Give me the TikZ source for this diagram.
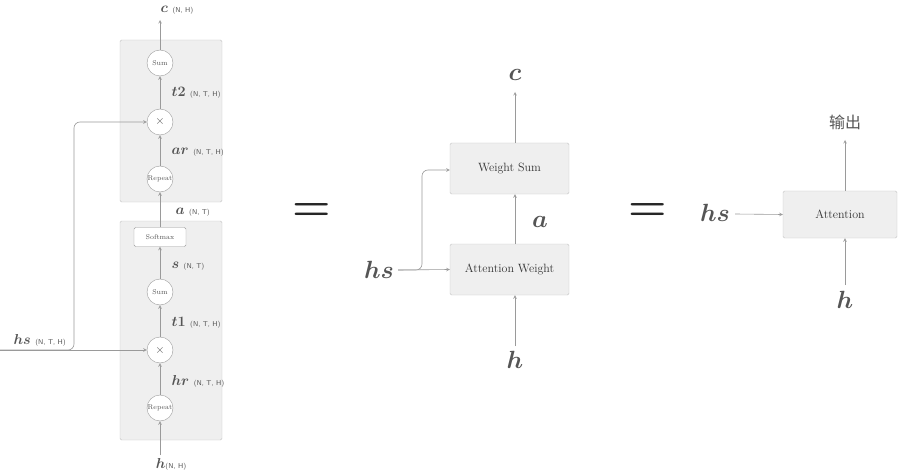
\documentclass[tikz,border=0pt]{standalone}
\usepackage{fontspec}
\usepackage{amsmath}
\newfontfamily\cjk{Noto Sans CJK SC}
\usetikzlibrary{positioning}
\definecolor{ln}{HTML}{9A9A9A}
\definecolor{tx}{HTML}{555555}
\definecolor{bx}{HTML}{EFEFEF}
\definecolor{bd}{HTML}{C4C4C4}
\tikzset{
  op/.style={circle, draw=ln, fill=white, minimum size=26pt, inner sep=0pt, font=\fontsize{7}{8}\selectfont, text=tx},
  blk/.style={draw=bd, fill=bx, rounded corners=1.5pt},
  lay/.style={draw=bd, fill=bx, rounded corners=1.5pt, minimum width=119pt, minimum height=51pt, font=\fontsize{12}{14}\selectfont, text=black!80},
  arr/.style={->, >=stealth, draw=ln, line width=0.6pt},
  big/.style={text=black!85, font=\fontsize{44}{46}\selectfont\bfseries},
  sml/.style={text=tx, font=\fontsize{15}{17}\selectfont, anchor=west},
  lbl/.style={text=tx, font=\fontsize{27}{30}\selectfont}
}
\newcommand{\dims}[1]{{\fontsize{7}{8}\sffamily\selectfont(#1)}}
\begin{document}
\begin{tikzpicture}[x=1pt, y=-1pt]
        \useasboundingbox (0,0) rectangle (908,476);
        % Left: detailed graph
        \draw[blk] (120,40) rectangle (222,202);
        \draw[blk] (120,221) rectangle (222,440);
        \node[op] (sumB) at (160,63) {Sum};
        \node[op, font=\fontsize{12}{12}\selectfont] (mulB) at (160,122) {$\times$};
        \node[op] (repB) at (160,179) {Repeat};
        \node[draw=ln, fill=white, rounded corners=1.5pt, minimum width=52pt, minimum height=19pt, inner sep=0pt, font=\fontsize{7}{8}\selectfont, text=tx] (soft) at (160,237) {Softmax};
        \node[op] (sumA) at (160,292) {Sum};
        \node[op, font=\fontsize{12}{12}\selectfont] (mulA) at (160,350) {$\times$};
        \node[op] (repA) at (160,408) {Repeat};
        \coordinate (cTop) at (160,20);
        \coordinate (hBot) at (160,455);
        \coordinate (hsIn) at (0,350);
        \coordinate (hsUp) at (74,122);
        \node[sml, anchor=center, inner sep=1pt] (cL) at (177,10) {$\boldsymbol{c}$ \dims{N, H}};
        \node[sml, anchor=center, inner sep=1pt] (hL) at (171,464) {$\boldsymbol{h}$\dims{N, H}};
        \node[sml] (hsL) at (10,340) {$\boldsymbol{hs}$ \dims{N, T, H}};
        \node[sml] at (168,93) {$\boldsymbol{t2}$ \dims{N, T, H}};
        \node[sml] at (168,152) {$\boldsymbol{ar}$ \dims{N, T, H}};
        \node[sml] at (172,212) {$\boldsymbol{a}$ \dims{N, T}};
        \node[sml] at (168,266) {$\boldsymbol{s}$ \dims{N, T}};
        \node[sml] at (168,323) {$\boldsymbol{t1}$ \dims{N, T, H}};
        \node[sml] at (168,381) {$\boldsymbol{hr}$ \dims{N, T, H}};
        \draw[arr] (hBot) -- (repA);
        \draw[arr] (repA) -- (mulA);
        \draw[arr] (mulA) -- (sumA);
        \draw[arr] (sumA) -- (soft);
        \draw[arr] (soft) -- (repB);
        \draw[arr] (repB) -- (mulB);
        \draw[arr] (mulB) -- (sumB);
        \draw[arr] (sumB) -- (cTop);
        \draw[arr] (hsIn) -- (mulA);
        \draw[arr, rounded corners=6pt] (hsIn) -- (74,350) -- (hsUp) -- (mulB);

        % Middle: two layers
        \node[big] (eq1) at (312,212) {=};
        \node[lay] (wsum) at (509.5,168.5) {Weight Sum};
        \node[lay] (attw) at (509.5,269.5) {Attention Weight};
        \node[lbl] (cM) at (515,75) {$\boldsymbol{c}$};
        \node[lbl] (aM) at (540,222) {$\boldsymbol{a}$};
        \node[lbl] (hsM) at (379,270) {$\boldsymbol{hs}$};
        \node[lbl] (hM) at (515,360) {$\boldsymbol{h}$};
        \coordinate (cMt) at (515,92);
        \coordinate (hMb) at (515,346);
        \coordinate (hsMe) at (398,270);
        \draw[arr] (hMb) -- (hMb |- attw.south);
        \draw[arr] (attw.north -| 515,0) -- (wsum.south -| 515,0);
        \draw[arr] (wsum.north -| 515,0) -- (cMt);
        \draw[arr] (hsMe) -- (attw.west);
        \draw[arr, rounded corners=6pt] (hsMe) -- (422,270) -- (422,170) -- (wsum.west |- 0,170);

        % Right: one layer
        \node[big] (eq2) at (648,212) {=};
        \node[lay, minimum width=114pt, minimum height=47pt] (attn) at (840,214.5) {Attention};
        \node[lbl] (hsR) at (715,213) {$\boldsymbol{hs}$};
        \node[lbl] (hR) at (845,300) {$\boldsymbol{h}$};
        \node[text=tx, font=\fontsize{16}{18}\cjk] (outR) at (845,122) {输出};
        \coordinate (outRb) at (845,140);
        \coordinate (hRt) at (845,285);
        \coordinate (hsRe) at (735,214);
        \draw[arr] (hsRe) -- (attn.west);
        \draw[arr] (hRt) -- (hRt |- attn.south);
        \draw[arr] (attn.north -| 845,0) -- (outRb);
\end{tikzpicture}
\end{document}
